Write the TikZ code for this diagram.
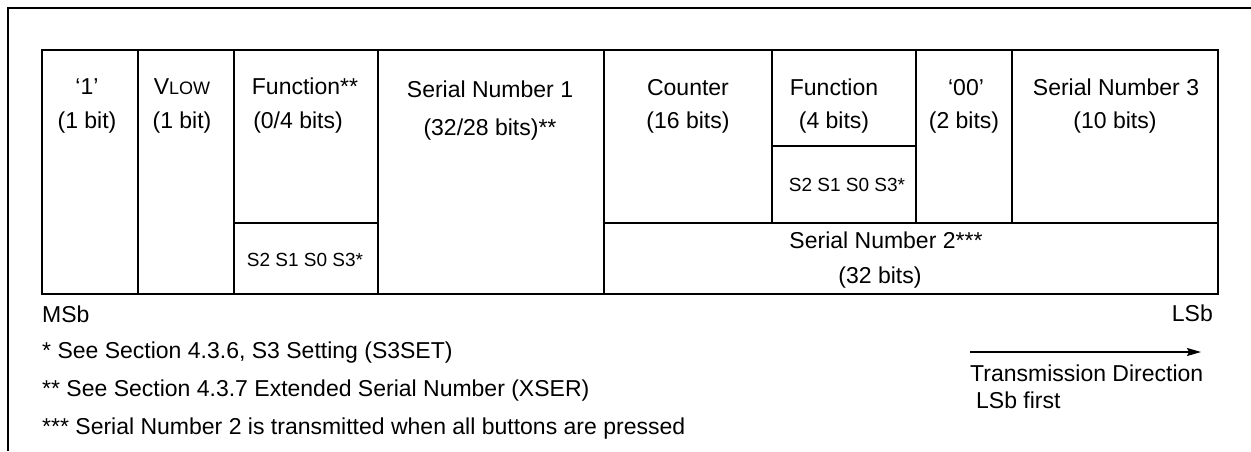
\documentclass[tikz,border=0pt]{standalone}
\usepackage{fontspec}
\setmainfont{Liberation Sans}
\usetikzlibrary{arrows.meta}
\begin{document}
\begin{tikzpicture}[x=1pt,y=-1pt,
  cell/.style={draw, line width=1.4pt, inner sep=0pt, outer sep=0pt, anchor=north west},
  lbl/.style={inner sep=0pt, anchor=base, font=\fontsize{23}{28}\selectfont},
  sml/.style={inner sep=0pt, anchor=base, font=\fontsize{19}{23}\selectfont},
  note/.style={inner sep=0pt, anchor=base west, font=\fontsize{23}{28}\selectfont}]
\useasboundingbox (0,0) rectangle (1251,451);
% outer frame
\coordinate (fb) at (8,451);
\coordinate (ft) at (8,8);
\coordinate (fr) at (1251,8);
\draw[line width=1.5pt] (fb) -- (ft) -- (fr);
% cells
\node[cell, minimum width=96pt,  minimum height=244pt] (one)   at (42,50) {};
\node[cell, minimum width=96pt,  minimum height=244pt] (vlow)  at (138,50) {};
\node[cell, minimum width=144pt, minimum height=173pt] (funa)  at (234,50) {};
\node[cell, minimum width=144pt, minimum height=71pt]  (funab) at (234,223) {};
\node[cell, minimum width=226pt, minimum height=244pt] (sn1)   at (378,50) {};
\node[cell, minimum width=168pt, minimum height=173pt] (cnt)   at (604,50) {};
\node[cell, minimum width=144pt, minimum height=96pt]  (fun)   at (772,50) {};
\node[cell, minimum width=144pt, minimum height=77pt]  (funb)  at (772,146) {};
\node[cell, minimum width=96pt,  minimum height=173pt] (zz)    at (916,50) {};
\node[cell, minimum width=206pt, minimum height=173pt] (sn3)   at (1012,50) {};
\node[cell, minimum width=614pt, minimum height=71pt]  (sn2)   at (604,223) {};
% texts
\node[lbl] (t1a) at (87,94) {‘1’};
\node[lbl] (t1b) at (87,128) {(1 bit)};
\node[lbl] (t2a) at (182,94) {V{\fontsize{18}{20}\selectfont LOW}};
\node[lbl] (t2b) at (182,128) {(1 bit)};
\node[lbl] (t3a) at (305,94) {Function**};
\node[lbl] (t3b) at (298,128) {(0/4 bits)};
\node[sml] (t3c) at (305,266) {S2 S1 S0 S3*};
\node[lbl] (t4a) at (490,97) {Serial Number 1};
\node[lbl] (t4b) at (490,135) {(32/28 bits)**};
\node[lbl] (t5a) at (688,95) {Counter};
\node[lbl] (t5b) at (688,128) {(16 bits)};
\node[lbl] (t6a) at (834,95) {Function};
\node[lbl] (t6b) at (834,128) {(4 bits)};
\node[sml] (t6c) at (847,191) {S2 S1 S0 S3*};
\node[lbl] (t7a) at (966,95) {‘00’};
\node[lbl] (t7b) at (964,128) {(2 bits)};
\node[lbl] (t8a) at (1116,95) {Serial Number 3};
\node[lbl] (t8b) at (1115,128) {(10 bits)};
\node[lbl] (t9a) at (886,248) {Serial Number 2***};
\node[lbl] (t9b) at (880,283) {(32 bits)};
% bottom texts
\node[note] (msb) at (42,322) {MSb};
\node[inner sep=0pt, anchor=base east, font=\fontsize{23}{28}\selectfont] (lsb) at (1213,321) {LSb};
\node[note] (n1) at (42,358) {* See Section 4.3.6, S3 Setting (S3SET)};
\node[note] (n2) at (42,396) {** See Section 4.3.7 Extended Serial Number (XSER)};
\node[note] (n3) at (42,434) {*** Serial Number 2 is transmitted when all buttons are pressed};
\coordinate (arrS) at (970,352);
\coordinate (arrE) at (1201,352);
\draw[line width=1.3pt, -{Stealth[length=14pt,width=8pt,inset=2pt]}] (arrS) -- (arrE);
\node[note] (td) at (970,381) {Transmission Direction};
\node[note] (lf) at (976,408) {LSb first};
\end{tikzpicture}
\end{document}
